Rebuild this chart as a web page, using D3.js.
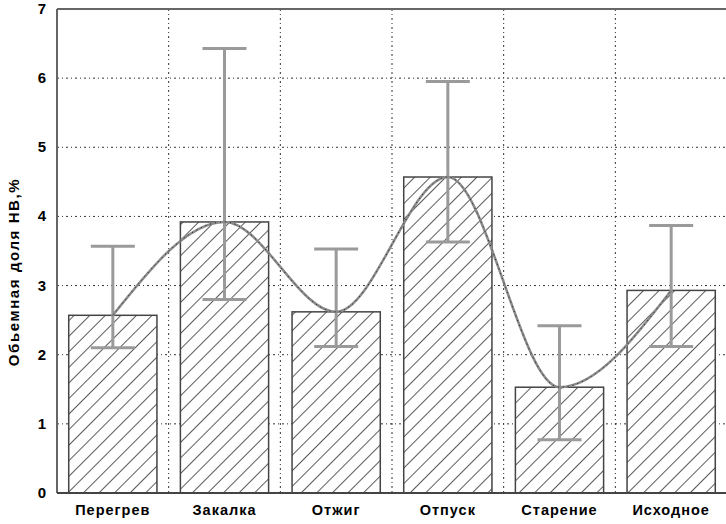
<!DOCTYPE html>
<html><head><meta charset="utf-8">
<script src="https://cdn.jsdelivr.net/npm/d3@7"></script>
<style>body{margin:0;background:#fff}svg{display:block}text{font-family:"Liberation Sans",Arial,sans-serif;font-weight:bold}</style>
</head><body><svg id="c" width="726" height="524"></svg>
<script>
const categories = ["Перегрев","Закалка","Отжиг","Отпуск","Старение","Исходное"];
const values = [2.57, 3.92, 2.62, 4.57, 1.53, 2.93];
const errLow = [2.10, 2.80, 2.12, 3.63, 0.77, 2.12];
const errHigh = [3.57, 6.43, 3.53, 5.95, 2.42, 3.87];
const yTicks = [0,1,2,3,4,5,6,7];
const yTitle = "Обьемная доля НВ,%";

const svg = d3.select("#c");
const L = 57, R = 727, T = 9, B = 493;
const x = d3.scaleBand().domain(categories).range([L, R]).paddingInner(0.21).paddingOuter(0.105);
const y = d3.scaleLinear().domain([0,7]).range([B, T]);
const step = x.step(), half = step*0.21/2;

const defs = svg.append("defs");
const pat = defs.append("pattern").attr("id","hatch").attr("patternUnits","userSpaceOnUse")
  .attr("width",11).attr("height",11).attr("patternTransform","rotate(45)");
pat.append("rect").attr("width",11).attr("height",11).attr("fill","#fff");
pat.append("line").attr("x1",0).attr("y1",0).attr("x2",0).attr("y2",11).attr("stroke","#000").attr("stroke-width",1.3);

// grid
const g = svg.append("g");
g.selectAll(".hg").data(yTicks.filter(t=>t>0&&t<7)).join("line")
  .attr("x1",L).attr("x2",R).attr("y1",d=>y(d)).attr("y2",d=>y(d))
  .attr("stroke","#333").attr("stroke-width",1).attr("stroke-dasharray","2,3,1,3");
g.selectAll(".vg").data(categories.slice(1)).join("line")
  .attr("x1",d=>x(d)-half).attr("x2",d=>x(d)-half).attr("y1",T).attr("y2",B)
  .attr("stroke","#333").attr("stroke-width",1).attr("stroke-dasharray","2,3,1,3");

// bars
svg.append("g").selectAll("rect").data(categories).join("rect")
  .attr("x",d=>x(d)).attr("width",x.bandwidth())
  .attr("y",(d,i)=>y(values[i])).attr("height",(d,i)=>B-y(values[i]))
  .attr("fill","url(#hatch)").attr("stroke","#444").attr("stroke-width",1.5);

// frame
svg.append("line").attr("x1",L).attr("x2",726).attr("y1",T).attr("y2",T).attr("stroke","#666").attr("stroke-width",2);
svg.append("line").attr("x1",L).attr("x2",L).attr("y1",T).attr("y2",B).attr("stroke","#666").attr("stroke-width",2);
svg.append("line").attr("x1",L).attr("x2",726).attr("y1",B).attr("y2",B).attr("stroke","#444").attr("stroke-width",2);

// error bars
const eb = svg.append("g").attr("stroke","#9a9a9a").attr("stroke-width",3);
const cx = d=>x(d)+x.bandwidth()/2;
eb.selectAll(".v").data(categories).join("line")
  .attr("x1",cx).attr("x2",cx).attr("y1",(d,i)=>y(errLow[i])).attr("y2",(d,i)=>y(errHigh[i]));
eb.selectAll(".t").data(categories).join("line")
  .attr("x1",d=>cx(d)-22).attr("x2",d=>cx(d)+22).attr("y1",(d,i)=>y(errHigh[i])).attr("y2",(d,i)=>y(errHigh[i]));
eb.selectAll(".b").data(categories).join("line")
  .attr("x1",d=>cx(d)-22).attr("x2",d=>cx(d)+22).attr("y1",(d,i)=>y(errLow[i])).attr("y2",(d,i)=>y(errLow[i]));

// curve
const line = d3.line().x(d=>cx(d)).y((d,i)=>y(values[i])).curve(d3.curveMonotoneX);
svg.append("path").datum(categories).attr("d",line).attr("fill","none").attr("stroke","#8a8a8a").attr("stroke-width",2.5);
svg.append("path").datum(categories).attr("d",line).attr("fill","none").attr("stroke","#222").attr("stroke-width",1).attr("stroke-dasharray","1,4");

// y ticks
svg.append("g").selectAll("text").data(yTicks).join("text")
  .attr("x",46).attr("y",d=>y(d)+5).attr("text-anchor","end").attr("font-size",15).attr("fill","#000").text(d=>d);
// x labels
svg.append("g").selectAll("text").data(categories).join("text")
  .attr("x",cx).attr("y",515).attr("text-anchor","middle").attr("font-size",14.5).attr("letter-spacing",1)
  .attr("fill","#000").text(d=>d);
// y title
svg.append("text").attr("transform",`translate(19,272) rotate(-90)`).attr("text-anchor","middle")
  .attr("font-size",15).attr("letter-spacing",1.6).attr("fill","#000").text(yTitle);
</script></body></html>
